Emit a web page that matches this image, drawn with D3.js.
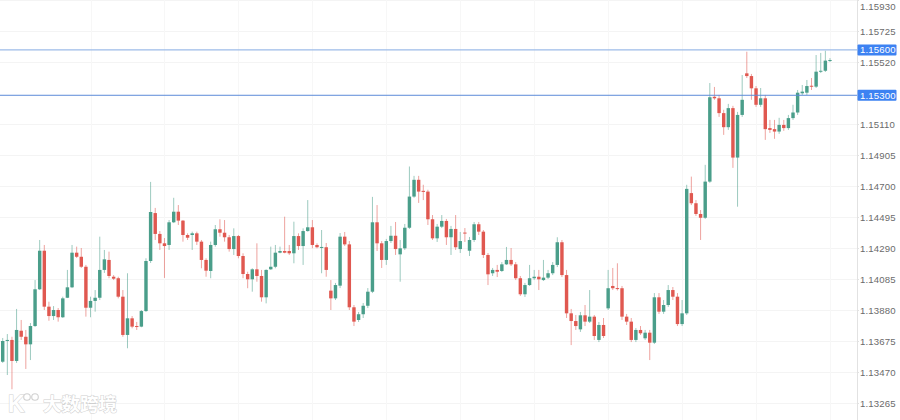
<!DOCTYPE html>
<html><head><meta charset="utf-8">
<script src="https://cdn.jsdelivr.net/npm/d3@7"></script>
<style>html,body{margin:0;padding:0;background:#fff;} svg{display:block;}</style>
</head><body>
<svg id="c" width="900" height="420"></svg>
<script>
const opens = [1.13538,1.13678,1.13682,1.13543,1.13743,1.13703,1.13653,1.13774,1.14017,1.14272,
1.13902,1.13840,1.13880,1.13832,1.13961,1.14030,1.14259,1.14232,1.14166,1.13895,
1.13940,1.13961,1.14145,1.14211,1.14100,1.14090,1.13968,1.13715,1.13825,1.13774,
1.13770,1.13873,1.14204,1.14521,1.14383,1.14321,1.14310,1.14460,1.14530,1.14471,
1.14376,1.14376,1.14387,1.14332,1.14211,1.14138,1.14310,1.14414,1.14391,1.14361,
1.14283,1.14369,1.14237,1.14118,1.14083,1.14149,1.14105,1.13964,1.14149,1.14166,
1.14259,1.14270,1.14270,1.14255,1.14369,1.14303,1.14402,1.14427,1.14310,1.14293,
1.14295,1.14008,1.13957,1.14041,1.14365,1.14314,1.13898,1.13814,1.13852,1.13908,
1.14001,1.14460,1.14321,1.14211,1.14336,1.14371,1.14248,1.14288,1.14424,1.14630,
1.14741,1.14668,1.14663,1.14480,1.14354,1.14431,1.14469,1.14361,1.14416,1.14283,
1.14392,1.14272,1.14343,1.14447,1.14398,1.14244,1.14123,1.14145,1.14138,1.14182,
1.14211,1.14182,1.14090,1.13984,1.14045,1.14090,1.14100,1.14078,1.14094,1.14123,
1.14178,1.14328,1.14111,1.13858,1.13807,1.13752,1.13845,1.13803,1.13836,1.13682,
1.13781,1.13891,1.14039,1.14025,1.14024,1.13836,1.13803,1.13682,1.13748,1.13693,
1.13730,1.13664,1.13964,1.13869,1.13913,1.14012,1.13968,1.13787,1.13858,1.14653,
1.14586,1.14515,1.14490,1.14729,1.15290,1.15280,1.15182,1.15089,1.15215,1.14888,
1.15170,1.15445,1.15427,1.15346,1.15237,1.15280,1.15083,1.15076,1.15060,1.15104,
1.15083,1.15149,1.15186,1.15313,1.15317,1.15363,1.15357,1.15456,1.15462,1.15530];
const highs = [1.13695,1.13721,1.13703,1.13887,1.13814,1.13748,1.13794,1.14078,1.14343,1.14310,
1.13935,1.13906,1.13893,1.13968,1.14145,1.14310,1.14299,1.14290,1.14178,1.13968,
1.14012,1.14365,1.14277,1.14266,1.14111,1.14100,1.14012,1.14123,1.13840,1.13801,
1.13880,1.14222,1.14727,1.14555,1.14402,1.14356,1.14475,1.14622,1.14574,1.14475,
1.14387,1.14398,1.14398,1.14343,1.14222,1.14332,1.14442,1.14480,1.14475,1.14376,
1.14420,1.14376,1.14255,1.14133,1.14156,1.14321,1.14145,1.14149,1.14299,1.14310,
1.14299,1.14497,1.14310,1.14464,1.14387,1.14420,1.14607,1.14475,1.14321,1.14409,
1.14323,1.14078,1.14059,1.14389,1.14396,1.14336,1.13913,1.13867,1.13926,1.14025,
1.14628,1.14574,1.14336,1.14350,1.14436,1.14462,1.14343,1.14449,1.14829,1.14767,
1.14767,1.14708,1.14675,1.14508,1.14449,1.14508,1.14482,1.14436,1.14508,1.14396,
1.14422,1.14363,1.14462,1.14462,1.14409,1.14257,1.14158,1.14178,1.14197,1.14297,
1.14290,1.14197,1.14105,1.14059,1.14178,1.14145,1.14145,1.14211,1.14145,1.14197,
1.14361,1.14343,1.14145,1.13887,1.13847,1.13867,1.13913,1.14012,1.13847,1.13801,
1.13827,1.14145,1.14158,1.14189,1.14039,1.13854,1.13827,1.13761,1.13774,1.13748,
1.13748,1.13992,1.13992,1.13946,1.14045,1.14032,1.13992,1.13946,1.14708,1.14762,
1.14607,1.14541,1.14840,1.15381,1.15355,1.15302,1.15204,1.15243,1.15230,1.15190,
1.15434,1.15588,1.15441,1.15361,1.15348,1.15302,1.15137,1.15137,1.15151,1.15137,
1.15170,1.15237,1.15335,1.15368,1.15401,1.15414,1.15566,1.15580,1.15595,1.15546];
const lows = [1.13530,1.13450,1.13356,1.13530,1.13682,1.13490,1.13549,1.13768,1.14012,1.13880,
1.13809,1.13814,1.13803,1.13827,1.13959,1.14025,1.14224,1.14158,1.13836,1.13832,
1.13869,1.13946,1.14125,1.14090,1.14078,1.13957,1.13703,1.13627,1.13759,1.13748,
1.13766,1.13867,1.14191,1.14343,1.14277,1.14092,1.14277,1.14455,1.14442,1.14332,
1.14343,1.14277,1.14310,1.14156,1.14100,1.14090,1.14299,1.14365,1.14332,1.14266,
1.14244,1.14222,1.14090,1.14024,1.14001,1.14067,1.13935,1.13924,1.14145,1.14156,
1.14255,1.14255,1.14244,1.14189,1.14277,1.14178,1.14398,1.14288,1.14288,1.14123,
1.14100,1.13880,1.13946,1.14025,1.14303,1.13880,1.13774,1.13801,1.13827,1.13893,
1.13992,1.14270,1.14158,1.14178,1.14323,1.14244,1.14067,1.14277,1.14416,1.14622,
1.14588,1.14607,1.14442,1.14343,1.14330,1.14422,1.14310,1.14244,1.14277,1.14257,
1.14330,1.14237,1.14330,1.14376,1.14224,1.14045,1.14105,1.14098,1.14131,1.14178,
1.14171,1.14078,1.13973,1.13966,1.14039,1.14078,1.14012,1.14072,1.14085,1.14111,
1.14164,1.14098,1.13827,1.13648,1.13748,1.13735,1.13774,1.13794,1.13682,1.13668,
1.13695,1.13880,1.14012,1.14009,1.13814,1.13781,1.13668,1.13668,1.13715,1.13682,
1.13549,1.13655,1.13854,1.13854,1.13900,1.13946,1.13774,1.13774,1.13847,1.14574,
1.14502,1.14343,1.14482,1.14721,1.15270,1.15157,1.15038,1.15071,1.14820,1.14563,
1.15157,1.15414,1.15270,1.15223,1.15223,1.15005,1.15051,1.15012,1.15045,1.15065,
1.15071,1.15137,1.15170,1.15302,1.15302,1.15335,1.15348,1.15447,1.15454,1.15520];
const closes = [1.13675,1.13682,1.13543,1.13748,1.13703,1.13653,1.13774,1.14017,1.14272,1.13902,
1.13840,1.13880,1.13832,1.13957,1.14030,1.14259,1.14232,1.14166,1.13895,1.13940,
1.13961,1.14145,1.14215,1.14105,1.14087,1.13968,1.13715,1.13825,1.13770,1.13768,
1.13873,1.14204,1.14528,1.14383,1.14321,1.14303,1.14460,1.14530,1.14471,1.14376,
1.14358,1.14387,1.14332,1.14211,1.14140,1.14310,1.14414,1.14391,1.14361,1.14283,
1.14369,1.14237,1.14118,1.14083,1.14149,1.14105,1.13964,1.14145,1.14166,1.14259,
1.14270,1.14259,1.14255,1.14369,1.14303,1.14402,1.14427,1.14310,1.14295,1.14297,
1.14145,1.13957,1.14045,1.14365,1.14314,1.13898,1.13803,1.13852,1.13908,1.14001,
1.14460,1.14321,1.14211,1.14336,1.14371,1.14283,1.14288,1.14424,1.14630,1.14741,
1.14663,1.14661,1.14480,1.14354,1.14431,1.14469,1.14361,1.14416,1.14295,1.14336,
1.14386,1.14343,1.14447,1.14398,1.14244,1.14116,1.14145,1.14133,1.14182,1.14211,
1.14182,1.14090,1.13984,1.14045,1.14090,1.14100,1.14083,1.14094,1.14123,1.14178,
1.14328,1.14111,1.13858,1.13807,1.13774,1.13845,1.13803,1.13836,1.13708,1.13781,
1.13708,1.14024,1.14024,1.14019,1.13836,1.13803,1.13682,1.13748,1.13726,1.13730,
1.13664,1.13964,1.13869,1.13913,1.14012,1.13968,1.13787,1.13858,1.14681,1.14586,
1.14515,1.14490,1.14729,1.15287,1.15280,1.15182,1.15089,1.15215,1.14888,1.15170,
1.15270,1.15427,1.15346,1.15237,1.15280,1.15076,1.15071,1.15060,1.15104,1.15083,
1.15149,1.15186,1.15317,1.15324,1.15361,1.15357,1.15456,1.15462,1.15529,1.15533];

const tickValues = [1.13265,1.13470,1.13675,1.13880,1.14085,1.14290,1.14495,1.14700,1.14905,1.15110,1.15520,1.15725,1.15930];
const tickLabels = ["1.13265","1.13470","1.13675","1.13880","1.14085","1.14290","1.14495","1.14700","1.14905","1.15110","1.15520","1.15725","1.15930"];
const levels = [1.15600, 1.15300];
const levelLabels = ["1.15600", "1.15300"];
const gridCandles = [19,35,51,67,83,99,115,131,147,163,179];

const W = 900, H = 420, axisX = 857;
const UP = "#4a9e8a", DOWN = "#e05850";
const svg = d3.select("#c");

const y = d3.scaleLinear().domain([1.13265, 1.15930]).range([403, 0]);
const x = d3.scaleBand().domain(d3.range(opens.length)).range([-0.2, 832.9]).paddingInner(0.26).paddingOuter(0.26);
const cx = i => x(i) + x.bandwidth() / 2;

// grid
const grid = svg.append("g");
grid.selectAll("line.h").data(tickValues).join("line")
  .attr("x1", 0).attr("x2", axisX).attr("y1", d => Math.round(y(d)) + 0.5).attr("y2", d => Math.round(y(d)) + 0.5)
  .attr("stroke", "#f4f4f4").attr("stroke-width", 1);
grid.selectAll("line.v").data(gridCandles).join("line")
  .attr("x1", d => Math.round(cx(d)) + 0.5).attr("x2", d => Math.round(cx(d)) + 0.5)
  .attr("y1", 0).attr("y2", H).attr("stroke", "#f7f7f7").attr("stroke-width", 1);

// candles
const data = d3.range(opens.length).map(i => ({i, o: opens[i], h: highs[i], l: lows[i], c: closes[i]}));
const g = svg.append("g");
const cg = g.selectAll("g.candle").data(data).join("g");
cg.append("line")
  .attr("x1", d => cx(d.i)).attr("x2", d => cx(d.i))
  .attr("y1", d => y(d.h)).attr("y2", d => y(d.l))
  .attr("stroke", d => d.c >= d.o ? UP : DOWN).attr("stroke-opacity", 0.55).attr("stroke-width", 1);
cg.append("rect")
  .attr("x", d => x(d.i)).attr("width", x.bandwidth())
  .attr("y", d => y(Math.max(d.o, d.c)))
  .attr("height", d => Math.max(1, y(Math.min(d.o, d.c)) - y(Math.max(d.o, d.c))))
  .attr("fill", d => d.c >= d.o ? UP : DOWN);

// watermark (drawn over the candles, as in the reference)
const wm = svg.append("g").attr("opacity", 0.95);
wm.append("text").attr("x", 8).attr("y", 412).text("K")
  .attr("font-family", "Liberation Sans, Arial, sans-serif").attr("font-size", 23).attr("font-weight", 700)
  .attr("fill", "#fff").attr("stroke", "#cfcfcf").attr("stroke-width", 1).attr("paint-order", "stroke");
[27, 35].forEach(cxw => wm.append("circle").attr("cx", cxw).attr("cy", 397).attr("r", 3.3)
  .attr("fill", "#fff").attr("stroke", "#cfcfcf").attr("stroke-width", 1.1));
wm.append("text").attr("x", 43).attr("y", 411).text("大数跨境")
  .attr("font-family", "Noto Sans CJK SC, sans-serif").attr("font-size", 18.5).attr("font-weight", 700)
  .attr("fill", "#fff").attr("stroke", "#cdcdcd").attr("stroke-width", 1).attr("paint-order", "stroke");

// level lines
const lv = svg.append("g");
lv.selectAll("line").data(levels).join("line")
  .attr("x1", 0).attr("x2", axisX).attr("y1", d => y(d)).attr("y2", d => y(d))
  .attr("stroke", (d, i) => i === 0 ? "#9dbbe8" : "#5b8bd9").attr("stroke-width", (d, i) => i === 0 ? 1.4 : 1);

// axis line
svg.append("line").attr("x1", axisX + 0.5).attr("x2", axisX + 0.5).attr("y1", 0).attr("y2", H)
  .attr("stroke", "#e2e2e2").attr("stroke-width", 1);

// axis
const axis = d3.axisRight(y).tickValues(tickValues).tickFormat((d, i) => tickLabels[i]).tickSize(2).tickPadding(1);
const ag = svg.append("g").attr("transform", `translate(${axisX},0)`).call(axis);
ag.select(".domain").remove();
ag.selectAll(".tick line").attr("stroke", "#e2e2e2");
ag.selectAll(".tick text").attr("fill", "#6b6b6b")
  .attr("font-family", "Liberation Sans, Arial, sans-serif").attr("font-size", 9.6).attr("letter-spacing", 0.15)
  .attr("dy", d => d === tickValues[tickValues.length - 1] ? "0.95em" : "0.32em");

// level labels
const lb = svg.append("g");
levels.forEach((v, i) => {
  const yy = y(v);
  lb.append("rect").attr("x", axisX + 0.5).attr("y", yy - 5.5).attr("width", 39).attr("height", 11)
    .attr("fill", "#3d82f2").attr("rx", 1);
  lb.append("text").attr("x", axisX + 3).attr("y", yy).attr("dy", "0.35em").text(levelLabels[i])
    .attr("fill", "#fff").attr("font-family", "Liberation Sans, Arial, sans-serif").attr("font-size", 9.6)
    .attr("letter-spacing", 0.15);
});
</script>
</body></html>
